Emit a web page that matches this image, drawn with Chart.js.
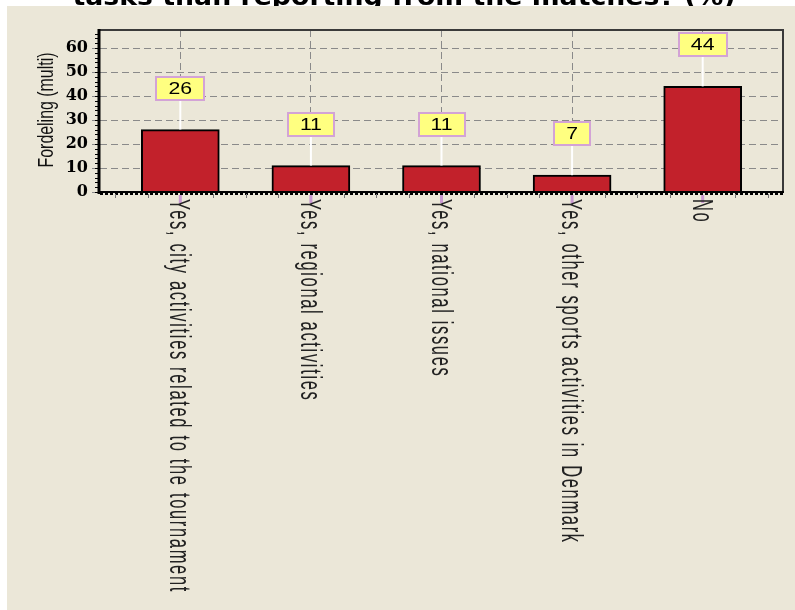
<!DOCTYPE html>
<html><head><meta charset="utf-8">
<script src="https://cdn.jsdelivr.net/npm/chart.js@4/dist/chart.umd.min.js"></script>
<style>html,body{margin:0;padding:0;background:#fff;overflow:hidden}#wrap{width:795px;height:610px;position:relative}</style>
</head><body><div id="wrap"><canvas id="c" width="795" height="610"></canvas></div>
<script>
const titleText = 'tasks than reporting from the matches? (%)';
const yAxisTitle = 'Fordeling (multi)';
const categories = [
  'Yes, city activities related to the tournament',
  'Yes, regional activities',
  'Yes, national issues',
  'Yes, other sports activities in Denmark',
  'No'
];
const values = [26, 11, 11, 7, 44];
const yTickValues = [0, 10, 20, 30, 40, 50, 60];
const yMax = 67.5;

const PANEL = '#EBE7D8';

const decor = {
  id: 'decor',
  beforeDraw(chart) {
    const ctx = chart.ctx;
    ctx.save();
    ctx.fillStyle = '#fff';
    ctx.fillRect(0, 0, chart.width, chart.height);
    ctx.font = 'bold 24px "DejaVu Sans"';
    const w = ctx.measureText(titleText).width;
    const sx = 663 / w;
    ctx.translate(404, 5);
    ctx.scale(sx, 1);
    ctx.fillStyle = '#000';
    ctx.textAlign = 'center';
    ctx.textBaseline = 'alphabetic';
    ctx.fillText(titleText, 0, 0);
    ctx.restore();
    ctx.save();
    ctx.fillStyle = PANEL;
    ctx.fillRect(7, 6, chart.width - 7, chart.height - 6);
    ctx.restore();
  },
  beforeDatasetsDraw(chart) {
    const ctx = chart.ctx, a = chart.chartArea;
    ctx.save();
    ctx.strokeStyle = '#3a3a3a';
    ctx.lineWidth = 2;
    ctx.beginPath();
    ctx.moveTo(a.left - 2, a.top);
    ctx.lineTo(a.right, a.top);
    ctx.lineTo(a.right, a.bottom);
    ctx.stroke();
    ctx.restore();
  },
  afterDatasetsDraw(chart) {
    const ctx = chart.ctx, a = chart.chartArea;
    const xs = chart.scales.x, ys = chart.scales.y;
    ctx.save();
    // left axis
    ctx.strokeStyle = '#000';
    ctx.lineWidth = 3;
    ctx.beginPath();
    ctx.moveTo(a.left - 1, a.top - 1);
    ctx.lineTo(a.left - 1, a.bottom + 2);
    ctx.stroke();
    ctx.lineWidth = 1;
    for (let v = 0; v <= yMax; v += 2) {
      const y = Math.round(ys.getPixelForValue(v)) + 0.5;
      ctx.beginPath();
      ctx.moveTo(a.left - 5, y);
      ctx.lineTo(a.left - 1, y);
      ctx.stroke();
    }
    // bottom axis
    ctx.lineWidth = 2;
    ctx.beginPath();
    ctx.moveTo(a.left - 2, a.bottom);
    ctx.lineTo(a.right + 1, a.bottom);
    ctx.stroke();
    ctx.setLineDash([3, 2]);
    ctx.beginPath();
    ctx.moveTo(a.left, a.bottom + 2);
    ctx.lineTo(a.right, a.bottom + 2);
    ctx.stroke();
    ctx.setLineDash([]);
    // minor ticks
    ctx.strokeStyle = '#777';
    ctx.lineWidth = 1;
    for (let i = -2; i <= categories.length * 4 + 2; i++) {
      if (i % 4 === 0) continue;
      const v = i / 4;
      const x = Math.round(xs.getPixelForValue(v)) + 0.5;
      if (x < a.left + 2 || x > a.right - 2) continue;
      ctx.beginPath();
      ctx.moveTo(x, a.bottom + 2);
      ctx.lineTo(x, a.bottom + 6);
      ctx.stroke();
    }
    // purple major ticks
    ctx.strokeStyle = '#C99AD2';
    ctx.lineWidth = 3;
    categories.forEach((c, i) => {
      const x = xs.getPixelForValue(i);
      ctx.beginPath();
      ctx.moveTo(x, a.bottom + 3);
      ctx.lineTo(x, a.bottom + 11);
      ctx.stroke();
    });
    // value boxes
    const meta = chart.getDatasetMeta(0);
    ctx.font = '17px "Liberation Sans"';
    const tsx = 1.25;
    meta.data.forEach((bar, i) => {
      const txt = String(values[i]);
      const x = bar.x, top = bar.y;
      const w = Math.round(ctx.measureText(txt).width * tsx + 24);
      const bb = Math.round(top - 30), bt = bb - 23;
      ctx.strokeStyle = '#fff';
      ctx.lineWidth = 2;
      ctx.beginPath();
      ctx.moveTo(x, bb);
      ctx.lineTo(x, top);
      ctx.stroke();
      const bx = Math.round(x - w / 2);
      ctx.fillStyle = '#FFFF80';
      ctx.fillRect(bx, bt, w, 23);
      ctx.strokeStyle = '#D3A3D6';
      ctx.lineWidth = 2;
      ctx.strokeRect(bx, bt, w, 23);
      ctx.save();
      ctx.translate(x, bt + 12.5);
      ctx.scale(tsx, 1);
      ctx.fillStyle = '#000';
      ctx.textAlign = 'center';
      ctx.textBaseline = 'middle';
      ctx.fillText(txt, 0, 0);
      ctx.restore();
    });
    ctx.restore();
  },
  afterDraw(chart) {
    const ctx = chart.ctx, a = chart.chartArea;
    const xs = chart.scales.x;
    ctx.save();
    ctx.fillStyle = '#222';
    ctx.font = '30px "Liberation Sans"';
    ctx.letterSpacing = '3px';
    const sx = 394 / ctx.measureText(categories[0]).width;
    categories.forEach((c, i) => {
      const x = xs.getPixelForValue(i);
      ctx.save();
      ctx.translate(x - 10, a.bottom + 7);
      ctx.rotate(Math.PI / 2);
      ctx.scale(sx, 1);
      ctx.textAlign = 'left';
      ctx.textBaseline = 'alphabetic';
      ctx.fillText(c, 0, 0);
      ctx.restore();
    });
    ctx.letterSpacing = '0px';
    // y axis title
    ctx.fillStyle = '#111';
    ctx.font = '22px "Liberation Sans"';
    const sy = 115 / ctx.measureText(yAxisTitle).width;
    ctx.translate(53, 110);
    ctx.rotate(-Math.PI / 2);
    ctx.scale(sy, 1);
    ctx.textAlign = 'center';
    ctx.textBaseline = 'alphabetic';
    ctx.fillText(yAxisTitle, 0, 0);
    ctx.restore();
  }
};

new Chart(document.getElementById('c'), {
  type: 'bar',
  data: {
    datasets: [{
      data: values.map((v, i) => ({ x: i, y: v })),
      backgroundColor: '#C2212B',
      borderColor: '#000',
      borderWidth: 2,
      barThickness: 78
    }]
  },
  options: {
    responsive: false,
    animation: false,
    devicePixelRatio: 1,
    layout: { padding: { top: 30, right: 12, left: 0, bottom: 0 } },
    plugins: { legend: { display: false }, tooltip: { enabled: false }, title: { display: false } },
    scales: {
      x: {
        type: 'linear', min: -0.615, max: 4.615, offset: false,
        afterBuildTicks: s => { s.ticks = categories.map((_, i) => ({ value: i })); },
        ticks: { display: false },
        grid: { color: '#8a8a8a', lineWidth: 1, drawTicks: false, offset: false },
        border: { display: false, dash: [7, 4] },
        afterFit: s => { s.height = 418; }
      },
      y: {
        min: 0, max: yMax,
        afterBuildTicks: s => { s.ticks = yTickValues.map(v => ({ value: v })); },
        ticks: { font: { family: 'DejaVu Serif', weight: 'bold', size: 16 }, color: '#000', padding: 4 },
        grid: {
          color: c => (c.tick && c.tick.value === 0) ? 'rgba(0,0,0,0)' : '#8a8a8a',
          lineWidth: 1, tickLength: 8, tickColor: '#8a8a8a'
        },
        border: { display: false, dash: [7, 4] },
        afterFit: s => { s.width = 100; }
      }
    }
  },
  plugins: [decor]
});
</script>
</body></html>
